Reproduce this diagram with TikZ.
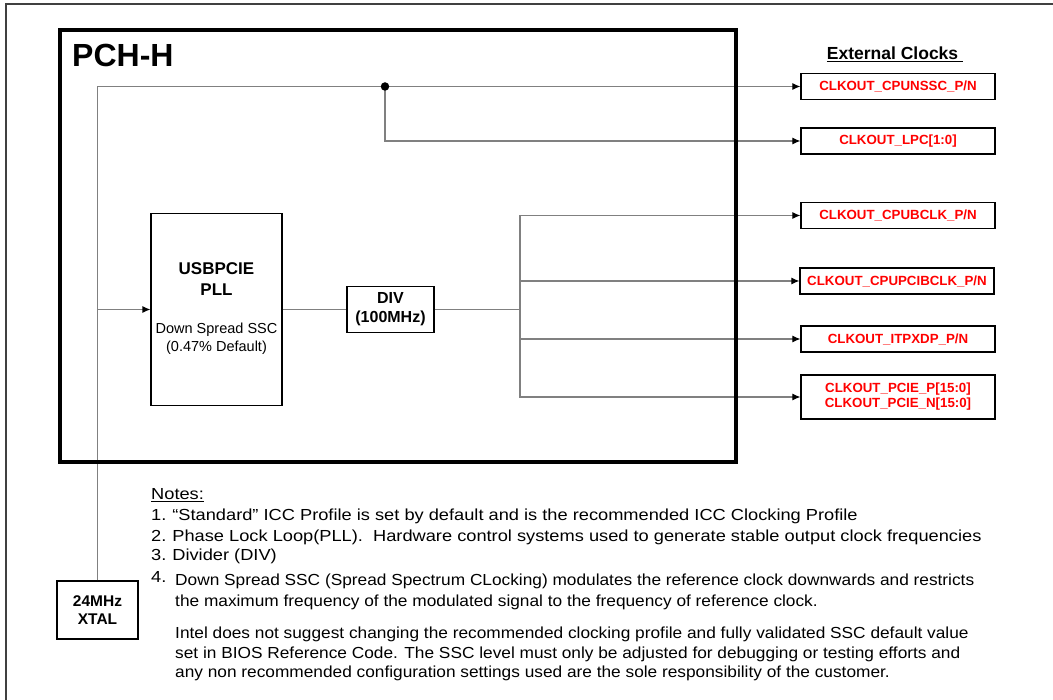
\documentclass[tikz,border=0pt]{standalone}
\usepackage{fontspec}
\setmainfont{Liberation Sans}
\newfontfamily\notesa[FakeStretch=1.14]{Liberation Sans}
\newfontfamily\notesb[FakeStretch=1.08]{Liberation Sans}
\usetikzlibrary{arrows.meta,positioning,calc}
\definecolor{wiregray}{RGB}{128,128,128}
\tikzstyle{clk}=[draw=black, line width=1.2pt, minimum width=194pt, minimum height=26pt, inner sep=0pt, font=\fontsize{13.3}{15}\selectfont\bfseries, text=red, align=center]
\tikzstyle{blk}=[draw=black, line width=1.1pt, inner sep=0pt, align=center]
\tikzstyle{wire}=[draw=wiregray, line width=1.1pt]
\tikzstyle{dot}=[circle, fill=black, inner sep=0pt, minimum size=8.5pt]
\tikzstyle{note}=[anchor=base west, inner sep=0pt, font=\notesa\fontsize{16}{19}\selectfont]
\tikzstyle{notetxt}=[anchor=base west, inner sep=0pt, font=\notesb\fontsize{16}{19}\selectfont]

\begin{document}
\begin{tikzpicture}[x=1pt,y=-1pt,>={Latex[length=8pt,width=7pt,color=black]}]
	\useasboundingbox (0,0) rectangle (1053,700);
	\draw[line width=1.5pt, draw=black!75] (6,700)--(6,4)--(1053,4);
		% clock sources and dividers
		\node[blk, line width=1.5pt, minimum width=81pt, minimum height=58pt, font=\fontsize{15.5}{18}\selectfont\bfseries] (XTAL)at(97.5,610){24MHz\\XTAL};
		\node[blk, minimum width=131pt, minimum height=192pt] (PLL)at(216.5,309.5){};
		\node[align=center, font=\fontsize{17}{21}\selectfont\bfseries] (PLLT)at(216.5,279){USBPCIE\\PLL};
		\node[align=center, font=\fontsize{14.5}{18}\selectfont] (PLLS)at(216.5,339){Down Spread SSC\\(0.47\% Default)};
		\node[blk, minimum width=87pt, minimum height=46pt, font=\fontsize{16}{19}\selectfont\bfseries] (DIV)at(390.5,309.5){DIV\\(100MHz)};
		% external clocks
		\node[font=\fontsize{17.5}{20}\selectfont\bfseries] (EXT)at(895,54){\underline{External Clocks\ }};
		\node[clk] (NSSC)at(898,86.5){CLKOUT\_CPUNSSC\_P/N};
		\node[clk] (LPC)at(898,141){CLKOUT\_LPC[1:0]};
		\node[clk] (BCLK)at(898,215.5){CLKOUT\_CPUBCLK\_P/N};
		\node[clk] (PCIBCLK)at(897,281){CLKOUT\_CPUPCIBCLK\_P/N};
		\node[clk] (ITP)at(898,339){CLKOUT\_ITPXDP\_P/N};
		\node[clk, minimum height=44pt] (PCIE)at(898,397){CLKOUT\_PCIE\_P[15:0]\\CLKOUT\_PCIE\_N[15:0]};
		\coordinate (J) at (385,86.5);
		\coordinate (T) at (97.5,309.5);
		\coordinate (S) at (520,309.5);

	\draw[wire,->](XTAL.north) |- (NSSC.west);
	\draw[wire,->](J) |- (LPC.west);
		\node[dot] (JD)at(J){};
	\draw[wire,->](T)--(PLL.west);
	\draw[wire](PLL.east)--(DIV.west);
	\draw[wire](DIV.east)--(S);
	\draw[wire,->](S) |- (BCLK.west);
	\draw[wire,->](S) |- (PCIBCLK.west);
	\draw[wire,->](S) |- (ITP.west);
	\draw[wire,->](S) |- (PCIE.west);

		\node[draw=black, line width=3.5pt, minimum width=676pt, minimum height=432pt] (PCH)at(398,246){};
		\node[anchor=base west, inner sep=0pt, font=\fontsize{32}{34}\selectfont\bfseries] (TTL)at(72,67){PCH-H};

		% notes
		\node[note] (N0)at(151,500){\underline{Notes:}};
		\node[note] (N1)at(151,521){1.\hspace{6pt}“Standard” ICC Profile is set by default and is the recommended ICC Clocking Profile};
		\node[note] (N2)at(151,541){2.\hspace{6pt}Phase Lock Loop(PLL).\ \ Hardware control systems used to generate stable output clock frequencies};
		\node[note] (N3)at(151,561){3.\hspace{6pt}Divider (DIV)};
		\node[note] (N4)at(151,583){4.};
		\node[notetxt] (N4a)at(175,585){Down Spread SSC (Spread Spectrum CLocking) modulates the reference clock downwards and restricts};
		\node[notetxt] (N4b)at(175,606){the maximum frequency of the modulated signal to the frequency of reference clock.};
		\node[notetxt] (I1)at(175,638){Intel does not suggest changing the recommended clocking profile and fully validated SSC default value};
		\node[notetxt] (I2)at(175,658){set in BIOS Reference Code. The SSC level must only be adjusted for debugging or testing efforts and};
		\node[notetxt] (I3)at(175,677){any non recommended configuration settings used are the sole responsibility of the customer.};
	\end{tikzpicture}
\end{document}
